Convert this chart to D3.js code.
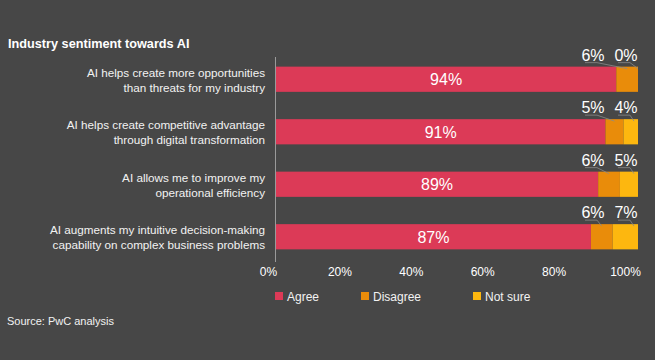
<!DOCTYPE html>
<html><head><meta charset="utf-8">
<script src="https://cdn.jsdelivr.net/npm/d3@7"></script>
<style>
html,body{margin:0;padding:0;background:#474747;}
svg{display:block;font-family:"Liberation Sans",Arial,Helvetica,sans-serif;}
</style></head>
<body><svg id="c" width="655" height="360"></svg>
<script>
const categories = [
  ["AI helps create more opportunities","than threats for my industry"],
  ["AI helps create competitive advantage","through digital transformation"],
  ["AI allows me to improve my","operational efficiency"],
  ["AI augments my intuitive decision-making","capability on complex business problems"]
];
const agree = [94, 91, 89, 87];
const disagree = [6, 5, 6, 6];
const notSure = [0, 4, 5, 7];
const seriesNames = ["Agree", "Disagree", "Not sure"];
const seriesColors = ["#dc3a57", "#e98c0a", "#fdb70f"];
const tickValues = [0, 20, 40, 60, 80, 100];

const svg = d3.select("#c");
const x = d3.scaleLinear().domain([0, 100]).range([276, 638]);
const xLab = d3.scaleLinear().domain([0, 100]).range([268, 625]);
const y = d3.scaleBand().domain(d3.range(categories.length)).range([53, 263]).paddingInner(0.52).paddingOuter(0.26);

// title
svg.append("text").attr("x", 8).attr("y", 47.5).attr("fill", "#fff")
  .attr("font-size", 12.7).attr("font-weight", "bold").text("Industry sentiment towards AI");

// axis line
svg.append("line").attr("x1", 275.5).attr("x2", 275.5).attr("y1", 57).attr("y2", 262)
  .attr("stroke", "#9a9a9a").attr("stroke-width", 1);

const rows = categories.map((c, i) => ({c, vals: [agree[i], disagree[i], notSure[i]]}));

rows.forEach((r, i) => {
  const g = svg.append("g");
  const by = y(i), bh = y.bandwidth();
  let acc = 0;
  r.vals.forEach((v, k) => {
    g.append("rect").attr("x", x(acc)).attr("y", by).attr("width", x(acc + v) - x(acc))
      .attr("height", bh).attr("fill", seriesColors[k]);
    acc += v;
  });
  // category labels
  const t = g.append("text").attr("text-anchor", "end").attr("fill", "#f2f2f2").attr("font-size", 11.7);
  r.c.forEach((line, j) => {
    t.append("tspan").attr("x", 265).attr("y", by + bh / 2 - 2.5 + j * 15).text(line);
  });
  // inside label
  g.append("text").attr("x", (x(0) + x(r.vals[0])) / 2).attr("y", by + bh / 2 + 6)
    .attr("text-anchor", "middle").attr("fill", "#fff").attr("font-size", 16).text(r.vals[0] + "%");
  // top labels with leaders
  const labY = by - 6;
  const labX = [x(100) - 45, x(100) - 12];
  [1, 2].forEach((k, m) => {
    const s = d3.sum(r.vals.slice(0, k));
    const segMid = (x(s) + x(s + r.vals[k])) / 2;
    g.append("text").attr("x", labX[m]).attr("y", labY).attr("text-anchor", "middle")
      .attr("fill", "#fff").attr("font-size", 16).text(r.vals[k] + "%");
    g.append("path")
      .attr("d", `M${labX[m] - 8},${labY + 2}L${labX[m] + 4},${labY + 2}L${Math.max(segMid, labX[m] + 8)},${by + 2}`)
      .attr("fill", "none").attr("stroke", "#8a8a8a").attr("stroke-width", 0.8);
  });
});

// tick labels
svg.append("g").attr("transform", "translate(0,276)")
  .call(d3.axisBottom(xLab).tickValues(tickValues).tickFormat(d => d + "%").tickSize(0).tickPadding(0))
  .call(g => g.select(".domain").remove())
  .call(g => g.selectAll("text").attr("fill", "#fff").attr("font-size", 12)
    .attr("font-family", "Liberation Sans, Arial, sans-serif").attr("dy", 0));

// legend
const legX = [275, 361, 473];
seriesNames.forEach((n, k) => {
  svg.append("rect").attr("x", legX[k]).attr("y", 292).attr("width", 8).attr("height", 8).attr("fill", seriesColors[k]);
  svg.append("text").attr("x", legX[k] + 12).attr("y", 300.5).attr("fill", "#f2f2f2").attr("font-size", 12).text(n);
});

// source
svg.append("text").attr("x", 7).attr("y", 325).attr("fill", "#f2f2f2").attr("font-size", 11).text("Source: PwC analysis");
</script></body></html>
